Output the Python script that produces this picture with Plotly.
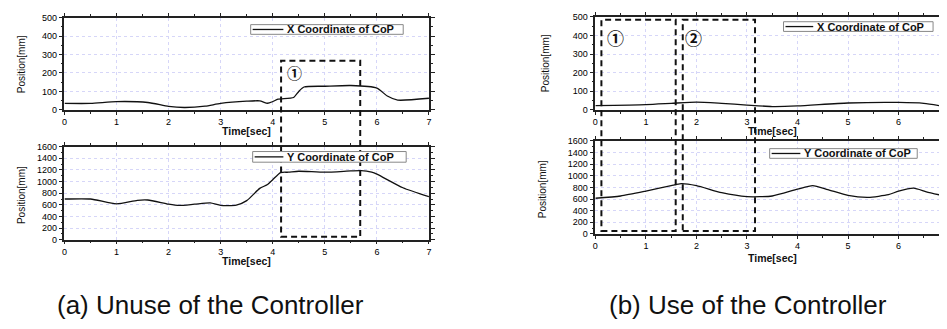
import plotly.graph_objects as go

# ---------------- data ----------------
t_a_x = [0, 0.5, 1.0, 1.6, 2.0, 2.3, 2.7, 3.0, 3.5, 3.75, 3.9, 4.0, 4.1, 4.4, 4.5, 4.6, 5.0, 5.5, 6.0, 6.2, 6.4, 7.0]
x_a = [35, 35, 45, 40, 19, 13, 20, 35, 47, 49, 36, 45, 58, 67, 100, 124, 128, 132, 118, 75, 53, 63]

t_a_y = [0, 0.5, 1.0, 1.4, 1.6, 2.0, 2.2, 2.5, 2.8, 3.0, 3.3, 3.5, 3.75, 3.9, 4.0, 4.15, 4.3, 4.5, 5.0, 5.5, 5.7, 5.9, 6.0, 6.5, 7.0]
y_a = [700, 700, 617, 678, 683, 611, 589, 611, 633, 589, 594, 672, 883, 950, 1033, 1155, 1161, 1178, 1161, 1183, 1189, 1161, 1128, 894, 739]

t_b_x = [0, 1, 1.5, 2, 2.5, 3, 3.5, 4, 5, 6, 6.5, 6.85]
x_b = [23, 28, 35, 42, 35, 26, 18, 21, 37, 40, 35, 21]

t_b_y = [0, 0.5, 1, 1.5, 1.7, 2, 2.5, 3, 3.5, 4, 4.3, 4.6, 5, 5.4, 5.8, 6, 6.3, 6.55, 6.85]
y_b = [613, 652, 736, 830, 864, 830, 708, 641, 652, 769, 830, 763, 663, 630, 674, 736, 786, 724, 663]

# dashed regions: (time start, time end, top value on X-axis plot, bottom value on Y-axis plot, label)
regions_a = [(4.16, 5.68, 266, 50, "①")]
regions_b = [(0.12, 1.59, 484, 50, "①"), (1.73, 3.16, 484, 50, "②")]

legend_x = "X Coordinate of CoP"
legend_y = "Y Coordinate of CoP"
xtitle = "Time[sec]"
ytitle = "Position[mm]"
caption_a = "(a) Unuse of the Controller"
caption_b = "(b) Use of the Controller"

# ---------------- layout helpers ----------------
# page has an 8px body margin: the figure is sized to end exactly at the window edge
OFF = 8
W, H = 947 - OFF, 329 - OFF
def px(xp):
    return (xp - OFF) / W
def py(yp):
    return 1 - (yp - OFF) / H

# panel pixel boxes in screenshot pixels: (left, right, top, bottom)
P = {
    "1": (62, 430, 12.7, 108),
    "2": (62, 430, 146, 242),
    "3": (598, 947, 12, 108),
    "4": (598, 947, 140, 236),
}
XR = {"1": [0, 7], "2": [0, 7], "3": [0, 6.84], "4": [0, 6.84]}
YR = {"1": [0, 500], "2": [0, 1600], "3": [0, 500], "4": [0, 1600]}
YD = {"1": 100, "2": 200, "3": 100, "4": 200}

tickfont = dict(family="Liberation Sans, Arial", size=9, color="#000")
fig = go.Figure()

series = [
    ("1", t_a_x, x_a), ("2", t_a_y, y_a),
    ("3", t_b_x, x_b), ("4", t_b_y, y_b),
]
for k, t, v in series:
    fig.add_trace(go.Scatter(
        x=t, y=v, mode="lines", xaxis="x" + ("" if k == "1" else k),
        yaxis="y" + ("" if k == "1" else k),
        line=dict(color="#111", width=1.3, shape="spline", smoothing=0.6),
        showlegend=False, hoverinfo="skip"))

layout = {}
for k, (l, r, tp, bt) in P.items():
    xn = "xaxis" + ("" if k == "1" else k)
    yn = "yaxis" + ("" if k == "1" else k)
    xa = "x" + ("" if k == "1" else k)
    ya = "y" + ("" if k == "1" else k)
    layout[xn] = dict(domain=[px(l), min(px(r), 1)], range=XR[k], anchor=ya,
                      dtick=1, tick0=0, showline=True, linecolor="#222", linewidth=1.5,
                      mirror="ticks", ticks="outside", ticklen=3, tickwidth=1.2, tickcolor="#222",
                      minor=dict(dtick=0.5, ticks="outside", ticklen=2, tickcolor="#222", showgrid=False),
                      showgrid=True, gridcolor="#d6d6f8", griddash="dot", gridwidth=1,
                      zeroline=False, tickfont=tickfont, fixedrange=True)
    layout[yn] = dict(domain=[max(py(bt), 0), min(py(tp), 1)], range=YR[k], anchor=xa,
                      dtick=YD[k], tick0=0, showline=True, linecolor="#222", linewidth=1.5,
                      mirror="ticks", ticks="outside", ticklen=4, tickwidth=1.2, tickcolor="#222",
                      minor=dict(dtick=YD[k] / 2, ticks="outside", ticklen=2, tickcolor="#222", showgrid=False),
                      showgrid=True, gridcolor="#d6d6f8", griddash="dot", gridwidth=1,
                      zeroline=False, tickfont=tickfont, fixedrange=True)

shapes = []
annotations = []

def ymap(k, val):
    l, r, tp, bt = P[k]
    lo, hi = YR[k]
    ypix = bt - (val - lo) / (hi - lo) * (bt - tp)
    return py(ypix)

dash = dict(color="#111", width=2, dash="6px,4px")
for top_k, bot_k, regs, xa, circ_size, offs in [
        ("1", "2", regions_a, "x", 15, [(13, 12)]),
        ("3", "4", regions_b, "x3", 17, [(14, 18), (11, 18)])]:
    for (t0, t1, vtop, vbot, lab), (dx, dy) in zip(regs, offs):
        shapes.append(dict(type="rect", xref=xa, yref="paper", x0=t0, x1=t1,
                           y0=ymap(bot_k, vbot), y1=ymap(top_k, vtop), line=dash,
                           fillcolor="rgba(0,0,0,0)", layer="above"))
        annotations.append(dict(text=lab, xref=xa, yref="paper", x=t0, xanchor="center",
                                y=ymap(top_k, vtop), yanchor="middle", xshift=dx, yshift=-dy,
                                showarrow=False,
                                font=dict(family="Noto Sans CJK JP", size=circ_size, color="#111",
                                          weight="bold")))

# legends (box + sample line + text)
legends = [
    (250, 404, 20, 30, 283, legend_x),
    (252, 407, 151, 162, 283, legend_y),
    (788, 939, 17, 27, 818, legend_x),
    (774, 923, 148, 158, 805, legend_y),
]
for (x0, x1, y0, y1, ls, txt) in legends:
    shapes.append(dict(type="rect", xref="paper", yref="paper", x0=px(x0), x1=px(x1),
                       y0=py(y1), y1=py(y0), line=dict(color="#888", width=1),
                       fillcolor="white", layer="above"))
    ym = (y0 + y1) / 2
    shapes.append(dict(type="line", xref="paper", yref="paper", x0=px(x0 + 2), x1=px(ls),
                       y0=py(ym), y1=py(ym), line=dict(color="#111", width=1.3), layer="above"))
    annotations.append(dict(text=txt, xref="paper", yref="paper", x=px(ls + 2), y=py(ym),
                            xanchor="left", yanchor="middle", showarrow=False,
                            font=dict(family="Liberation Sans, Arial", size=11, color="#111", weight="bold")))

# axis titles
for k, (l, r, tp, bt) in P.items():
    cx = (l + r) / 2 if k in ("1", "2") else 777
    ty = {"1": 130, "2": 264, "3": 130, "4": 261}[k]
    annotations.append(dict(text=xtitle, xref="paper", yref="paper", x=px(cx), y=py(ty),
                            xanchor="center", yanchor="middle", showarrow=False,
                            font=dict(family="Liberation Sans, Arial", size=10.5, color="#111", weight="bold")))
    yx = {"1": 18, "2": 18, "3": 548, "4": 544}[k]
    yy = {"1": 61, "2": 196, "3": 60, "4": 190}[k]
    annotations.append(dict(text=ytitle, xref="paper", yref="paper", x=px(yx), y=py(yy),
                            xanchor="center", yanchor="middle", showarrow=False, textangle=-90,
                            font=dict(family="Liberation Sans, Arial", size=10, color="#111")))

# captions
annotations.append(dict(text=caption_a, xref="paper", yref="paper", x=px(52), y=py(309),
                        xanchor="left", yanchor="middle", showarrow=False,
                        font=dict(family="Liberation Sans, Arial", size=26, color="#111")))
annotations.append(dict(text=caption_b, xref="paper", yref="paper", x=px(610), y=py(309),
                        xanchor="left", yanchor="middle", showarrow=False,
                        font=dict(family="Liberation Sans, Arial", size=26, color="#111")))

fig.update_layout(width=W, height=H, margin=dict(l=0, r=0, t=0, b=0),
                  paper_bgcolor="white", plot_bgcolor="white",
                  shapes=shapes, annotations=annotations, **layout)

fig.write_html("out.html", config={"displayModeBar": False})
